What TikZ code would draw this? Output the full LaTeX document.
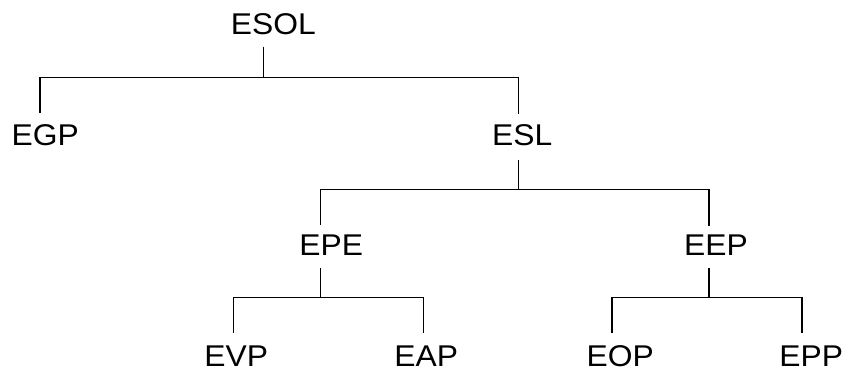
\documentclass[tikz,border=0pt]{standalone}
\usepackage{fontspec}
\setmainfont{Liberation Sans}[FakeStretch=1.06]
\begin{document}
\begin{tikzpicture}[x=1pt,y=-1pt,
  label/.style={anchor=base,inner sep=0pt,text depth=0pt,font=\fontsize{30}{36}\selectfont},
  branch/.style={draw=black,line width=1.1pt}]
\useasboundingbox (0,0) rectangle (847,370);

% labels (anchored on their baselines; no letter has a descender)
\node[label] (esol) at (273.3,34.5) {ESOL};
\node[label] (egp)  at (45.3,145)  {EGP};
\node[label] (esl)  at (522.2,145)  {ESL};
\node[label] (epe)  at (331.3,255.5) {EPE};
\node[label] (eep)  at (716,255.5)  {EEP};
\node[label] (evp)  at (236.3,366) {EVP};
\node[label] (eap)  at (426.3,366) {EAP};
\node[label] (eop)  at (620.3,366) {EOP};
\node[label] (epp)  at (811.2,366) {EPP};

% stem tops under parents and drop ends above children
\coordinate (esol-s) at (263.7,46.5);
\coordinate (j1)     at (263.7,77.7);
\coordinate (egp-t)  at (40,113);
\coordinate (esl-t)  at (518.3,113.5);

\coordinate (esl-s)  at (518.3,160);
\coordinate (j2)     at (518.3,189.5);
\coordinate (epe-t)  at (320.8,224.5);
\coordinate (eep-t)  at (709,225.5);

\coordinate (epe-s)  at (320.8,268.3);
\coordinate (j3)     at (320.8,297.3);
\coordinate (evp-t)  at (233.5,332.7);
\coordinate (eap-t)  at (423.5,332.7);

\coordinate (eep-s)  at (709,268.3);
\coordinate (j4)     at (709,297.3);
\coordinate (eop-t)  at (612,332.7);
\coordinate (epp-t)  at (802,332.7);

% ESOL -> EGP, ESL
\draw[branch] (esol-s) -- (j1);
\draw[branch] (egp-t) -- (egp-t |- j1) -- (esl-t |- j1) -- (esl-t);
% ESL -> EPE, EEP
\draw[branch] (esl-s) -- (j2);
\draw[branch] (epe-t) -- (epe-t |- j2) -- (eep-t |- j2) -- (eep-t);
% EPE -> EVP, EAP
\draw[branch] (epe-s) -- (j3);
\draw[branch] (evp-t) -- (evp-t |- j3) -- (eap-t |- j3) -- (eap-t);
% EEP -> EOP, EPP
\draw[branch] (eep-s) -- (j4);
\draw[branch] (eop-t) -- (eop-t |- j4) -- (epp-t |- j4) -- (epp-t);
\end{tikzpicture}
\end{document}
